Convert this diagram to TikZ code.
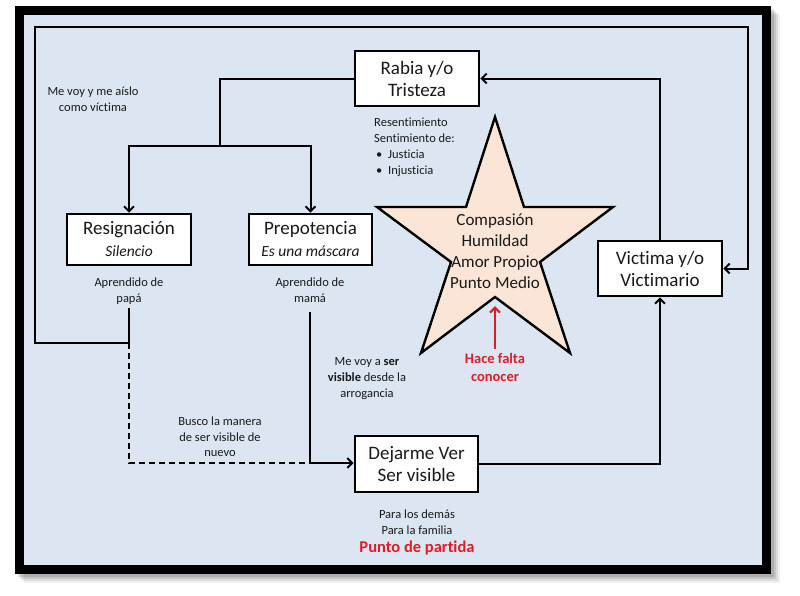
\documentclass[tikz,border=0pt]{standalone}
\usepackage{fontspec}
\setmainfont{Carlito}[Ligatures=NoCommon]
\usetikzlibrary{arrows.meta}
\definecolor{bgblue}{RGB}{220,230,242}
\definecolor{peach}{RGB}{251,229,214}
\definecolor{redtxt}{RGB}{226,28,36}
\definecolor{txt}{RGB}{25,25,25}
\newcommand{\subit}[1]{{\fontsize{15.5}{22}\selectfont\itshape #1}}
\begin{document}
\begin{tikzpicture}[x=1pt,y=-1pt,
  box/.style={draw=black, line width=2.6pt, fill=white, align=center, inner sep=0pt,
              text=txt, font=\fontsize{19}{22}\selectfont},
  conn/.style={line width=2pt, draw=black},
  arr/.style={conn, -{Straight Barb[length=5pt,width=10pt]}},
  dashconn/.style={conn, dashed, dash pattern=on 6pt off 4pt},
  small/.style={align=center, inner sep=0pt, text=txt, font=\fontsize{12.5}{15.5}\selectfont},
  startext/.style={align=center, inner sep=0pt, text=txt, font=\fontsize{17}{21}\selectfont},
  redlbl/.style={align=center, inner sep=0pt, text=redtxt, font=\fontsize{14.5}{18}\selectfont\bfseries},
  redarr/.style={line width=2.2pt, draw=redtxt, -{Straight Barb[length=5pt,width=10pt]}}
]
\useasboundingbox (0,0) rectangle (800,595);
% shadow
\foreach \d/\o in {9/0.06,7/0.08,5/0.10,3/0.12}{
  \fill[black, opacity=\o] (15+\d,6+\d) rectangle (771+\d,574+\d);
}
% frame
\fill[black] (15,6) rectangle (771,574);
\fill[bgblue] (24,15) rectangle (762,565);

% boxes
\node[box, minimum width=124pt, minimum height=55pt] (rabia) at (417,78.5) {Rabia y/o\\Tristeza};
\node[box, minimum width=124pt, minimum height=51pt] (resig) at (129,239.5) {Resignación\\\subit{Silencio}};
\node[box, minimum width=123pt, minimum height=51pt] (prepo) at (310.5,239.5) {Prepotencia\\\subit{Es una máscara}};
\node[box, minimum width=124pt, minimum height=55pt] (vict) at (660,268.5) {Victima y/o\\Victimario};
\node[box, minimum width=123pt, minimum height=56pt] (dej) at (416.5,464) {Dejarme Ver\\Ser visible};

% star
\draw[line width=2.4pt, fill=peach, line join=miter]
  (495,117) -- (524,207) -- (613,207) -- (540,262) -- (570,353) -- (495,297)
  -- (421,353) -- (451,262) -- (377,207) -- (466,207) -- cycle;
\coordinate (redtip) at (495,306);
\node[startext] (startxt) at (495,251) {Compasión\\Humildad\\Amor Propio\\Punto Medio};

% coordinates
\coordinate (split) at (220,146);
\coordinate (papa) at (129,308);
\coordinate (jpapa) at (129,343);
\coordinate (jleft) at (35,343);
\coordinate (tl) at (35,27);
\coordinate (tr) at (748,27);
\coordinate (mama) at (310,312);
\coordinate (jmama) at (310,463);
\coordinate (jdash) at (129,463);

% connectors
\draw[conn] (rabia.west) -| (split);
\draw[arr] (split) -| (resig.north);
\draw[arr] (split) -| (prepo.north);
\draw[arr] (vict.north) |- (rabia.east);
\draw[arr] (dej.east) -| (vict.south);
\draw[conn] (papa) -- (jpapa);
\draw[arr, line join=miter] (jpapa) -- (jleft) -- (tl) -- (tr) |- (vict.east);
\draw[dashconn] (jpapa) -- (jdash) -- (jmama);
\draw[conn] (mama) -- (jmama);
\draw[arr] (jmama) -- (jmama -| dej.west);

% labels
\node[small] (aisla) at (93,99) {Me voy y me aíslo\\como víctima};
\node[small] (apapa) at (129,291) {Aprendido de\\papá};
\node[small] (amama) at (310,290) {Aprendido de\\mamá};
\node[small, anchor=west, align=left, font=\fontsize{12.5}{16}\selectfont] (resent) at (374,147)
  {Resentimiento\\Sentimiento de:\\\makebox[14pt][l]{\hspace{2pt}•}Justicia\\\makebox[14pt][l]{\hspace{2pt}•}Injusticia};
\node[small, font=\fontsize{12.5}{16}\selectfont] (mevoy) at (367,379) {Me voy a \textbf{ser}\\\textbf{visible} desde la\\arrogancia};
\node[small] (busco) at (220,437) {Busco la manera\\de ser visible de\\nuevo};
\node[small, font=\fontsize{12.5}{16}\selectfont] (para) at (417,522) {Para los demás\\Para la familia};
\node[redlbl] (hace) at (495,367) {Hace falta\\conocer};
\node[redlbl, font=\fontsize{16.5}{20}\selectfont\bfseries] (partida) at (417,548) {Punto de partida};
\draw[redarr] ([yshift=4pt]hace.north) -- (redtip);
\end{tikzpicture}
\end{document}
